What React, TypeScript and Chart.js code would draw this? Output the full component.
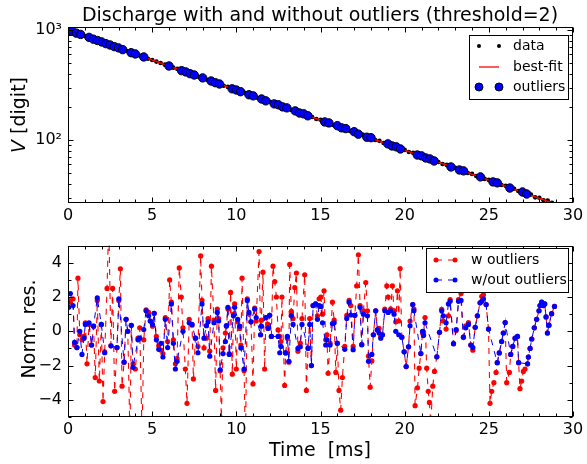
import React, { useEffect, useRef } from "react";
import { Chart, registerables } from "chart.js";

Chart.register(...registerables);

const FONT = '"DejaVu Sans", sans-serif';
const TITLE = "Discharge with and without outliers (threshold=2)";

// ---------- top panel: discharge data ----------
const TOP_T = [
  0, 0.25, 0.5, 0.75, 1, 1.25, 1.5, 1.75, 2, 2.25, 2.5, 2.75,
  3, 3.25, 3.5, 3.75, 4, 4.25, 4.5, 4.75, 5, 5.25, 5.5, 5.75,
  6, 6.25, 6.5, 6.75, 7, 7.25, 7.5, 7.75, 8, 8.25, 8.5, 8.75,
  9, 9.25, 9.5, 9.75, 10, 10.25, 10.5, 10.75, 11, 11.25, 11.5, 11.75,
  12, 12.25, 12.5, 12.75, 13, 13.25, 13.5, 13.75, 14, 14.25, 14.5, 14.75,
  15, 15.25, 15.5, 15.75, 16, 16.25, 16.5, 16.75, 17, 17.25, 17.5, 17.75,
  18, 18.25, 18.5, 18.75, 19, 19.25, 19.5, 19.75, 20, 20.25, 20.5, 20.75,
  21, 21.25, 21.5, 21.75, 22, 22.25, 22.5, 22.75, 23, 23.25, 23.5, 23.75,
  24, 24.25, 24.5, 24.75, 25, 25.25, 25.5, 25.75, 26, 26.25, 26.5, 26.75,
  27, 27.25, 27.5, 27.75, 28, 28.25, 28.5, 28.75,
];
const TOP_V = [
  1005, 972, 936, 912, 880, 857, 826, 803, 779, 752, 731, 706,
  688, 663, 645, 622, 606, 585, 569, 548, 534, 516, 502, 484,
  471, 455, 443, 427, 416, 401, 390, 376, 367, 353, 344, 332,
  323, 311, 304, 292, 285, 275, 268, 258, 252, 242, 236, 227,
  222, 213, 209, 200, 196, 188, 184, 176, 173, 166, 162, 155,
  153, 146, 143, 137, 135, 129, 127, 121, 119, 113, 112, 106,
  105, 100, 98.3, 94.0, 92.3, 88.3, 86.7, 82.9, 81.3, 77.9, 76.4, 73.1,
  71.8, 68.7, 67.3, 64.5, 63.2, 60.6, 59.4, 56.9, 55.8, 53.4, 52.4, 50.1,
  49.2, 47.1, 46.2, 44.3, 43.4, 41.6, 40.8, 39.0, 38.3, 36.6, 36.0, 34.4,
  33.7, 32.3, 31.9, 30.1, 29.9, 28.3, 28.1, 26.9,
];
const OUTLIER_T = [
  0, 0.25, 0.5, 0.75, 1.25, 1.5, 1.75, 2, 2.25, 2.5, 2.75, 3, 3.25, 3.75, 4, 4.5,
  6, 6.75, 7, 7.25, 7.5, 8, 8.5, 8.75, 9, 9.75, 10, 10.25, 10.75, 11,
  11.5, 11.75, 12.25, 12.5, 12.75, 13, 13.5, 13.75, 14, 14.25, 15.25, 15.5,
  16, 16.25, 16.5, 17, 17.25, 17.75, 18, 19, 19.25, 19.5, 19.75, 20.75, 21,
  21.25, 21.5, 21.75, 22.75, 23.25, 23.5, 24.5, 25.25, 25.5, 26.25, 27, 27.25,
];
const FIT_T = [0, 28.9];
const FIT_V = [1000, 26.4];

// ---------- bottom panel: normalised residuals ----------
const RES_T = [
  0.04, 0.14, 0.30, 0.39, 0.53, 0.59, 0.70, 0.83, 0.95, 1.03,
  1.13, 1.25, 1.40, 1.52, 1.62, 1.74, 1.86, 1.98, 2.08, 2.18,
  2.32, 2.42, 2.55, 2.65, 2.77, 2.91, 3.02, 3.11, 3.21, 3.33,
  3.45, 3.55, 3.68, 3.76, 3.86, 4.00, 4.16, 4.26, 4.40, 4.50,
  4.64, 4.79, 4.89, 5.02, 5.12, 5.25, 5.39, 5.53, 5.64, 5.78,
  5.92, 6.04, 6.14, 6.26, 6.38, 6.48, 6.61, 6.73, 6.83, 6.97,
  7.07, 7.20,
  7.37, 7.45, 7.57, 7.72, 7.88, 7.96, 8.08, 8.22, 8.32, 8.42,
  8.52, 8.67, 8.77, 8.87, 8.95, 9.04, 9.11, 9.21, 9.35, 9.41,
  9.50, 9.58, 9.66, 9.76, 9.83, 9.90, 10.00, 10.08, 10.20, 10.27,
  10.34, 10.46, 10.54, 10.65, 10.75, 10.87, 10.99, 11.09, 11.18, 11.35,
  11.44, 11.49, 11.58, 11.68, 11.76, 11.88, 11.98, 12.08, 12.18, 12.28,
  12.38, 12.48, 12.58, 12.65, 12.71, 12.87, 12.93, 13.03, 13.12, 13.17,
  13.27, 13.37, 13.47, 13.57, 13.66, 13.80, 13.90, 14.06, 14.16, 14.26,
  14.36, 14.46, 14.56, 14.71,
  14.82, 14.92, 15.02, 15.12, 15.21, 15.31, 15.38, 15.45, 15.57, 15.71,
  15.81, 15.91, 16.00, 16.10, 16.20, 16.30, 16.44, 16.56, 16.70, 16.80,
  16.94, 17.04, 17.15, 17.25, 17.35, 17.45, 17.55, 17.69, 17.79, 17.85,
  17.95, 18.05, 18.14, 18.28, 18.38, 18.48, 18.58, 18.68, 18.82, 18.94,
  19.02, 19.17, 19.27, 19.37, 19.47, 19.57, 19.65, 19.73, 19.83, 19.97,
  20.09, 20.23, 20.32, 20.48, 20.55, 20.62, 20.76, 20.86, 20.96, 21.06,
  21.12, 21.21, 21.31, 21.40, 21.47, 21.55, 21.67, 21.77, 21.91, 22.07,
  22.20, 22.30, 22.46, 22.60, 22.70, 22.90, 23.06, 23.20, 23.35, 23.49,
  23.63, 23.79, 23.93, 24.05, 24.19, 24.32, 24.48, 24.58, 24.68, 24.84,
  24.98, 25.07, 25.17, 25.30, 25.43, 25.50, 25.62, 25.76, 25.86, 25.97,
  26.06, 26.22, 26.30, 26.42, 26.56, 26.70, 26.77, 26.85, 26.95, 27.05,
  27.15, 27.30, 27.35, 27.45, 27.55, 27.70, 27.84, 27.98, 28.04, 28.14,
  28.24, 28.32, 28.40, 28.48, 28.57, 28.73, 28.90,
];
const RES_W = [
  1.8, 1.7, 1.9, -0.8, -0.95, 3.1, -0.2, -0.5, -0.3, 0.5,
  -1.9, 0.4, -0.8, 0.3, -2.7, 1.8, -2.9, 0.4, -4.1, -1.2,
  2.5, 6.5, -0.85, 2.5, -3.5, -0.95, 1.8, 3.65, -3.2, -1.8,
  0.7, 0.0, -6.0, 0.35, -1.9, -2.2, -0.4, 0.2, -6.0, -0.5,
  1.25, 1.1, 0.6, 0.3, 1.05, -0.3, -0.85, -1.1, -1.3, 0.8,
  -0.6, 3.0, 1.7, -0.5, -1.9, -1.6, 3.7, 2.0, 0.2, -2.2,
  -4.2, 0.7,
  0.36, -2.78, -0.4, -0.88, 4.4, 1.8, -0.97, -0.4, 0.74, -1.16,
  3.8, 0.65, -3.45, 1.3, 0.74, -2.3, -5.07, -0.97, -0.1, 0.3,
  1.3, -1.3, 2.27, -2.5, 1.0, 1.6, -2.2, 0.55, 0.17, -0.8,
  3.1, -2.3, -6.5, 1.9, 1.0, 0.55, -3.07, 1.35, 0.6, 4.65,
  -0.2, 0.65, 3.45, -2.2, 0.8, 0.4, 0.93, -0.3, 3.8, 2.9,
  2.0, 0.08, -0.3, -0.6, 2.0, -3.16, -1.26, -0.4, -1.8, 3.9,
  1.16, 0.74, 2.55, 3.4, -1.16, -0.69, 0.74, 3.3, -3.45, -0.97,
  0.74, -2.0, 1.5, 1.6,
  0.9, 1.9, 2.0, 1.0, 2.36, -0.5, -0.2, -2.45, -0.69, 1.7,
  0.65, -2.4, -0.69, -3.45, -4.6, -2.7, -0.88, 0.93, 1.8, 1.5,
  -0.88, 0.93, 2.65, 4.46, 1.5, -0.78, 1.2, 2.84, 1.2, -1.45,
  -3.26, -1.73, -0.2, 1.2, 0.08, 0.17, -0.3, -0.2, 1.3, 2.65,
  2.0, 1.3, 2.65, 1.2, 0.55, 2.36, 0.6, 3.66, -0.34, -1.2,
  -2.06, -0.9, 0.6, 1.56, 1.3, -4.34, -3.3, -2.15, -1.3, -0.1,
  -0.06, 0.8, -2.15, -3.5, -4.15, -5.4, -3.2, -2.34, -1.49, -0.06,
  1.28, 0.6, 0.13, 0.9, 1.85, -0.72, 0.04, 1.85, 2.2, -0.34,
  0.32, 0.51, -0.8, -1.1, 0.23, 0.9, 1.66, 2.04, 2.13, 1.56,
  0.13, -4.2, -3.5, -3.0, -2.4, -1.83, -1.26, -0.6, -0.1, 0.51,
  -3.0, -2.4, -1.35, -0.88, -0.4, -0.3, -1.83, -3.35, -2.9, -2.34,
  -2.2, -1.9, -1.5, -1.0, -0.45, 0.2, 0.7, 1.2, 1.5, 1.7,
  1.5, 1.6, 0.84, -0.1, 0.36, 1.03, 1.45,
];
const RES_WO = [
  1.4, 2.2, 1.5, -0.65, -0.95, null, 0.0, -1.35, -0.4, 0.4,
  null, 0.5, -0.8, 0.3, null, 1.95, null, 0.4, null, -1.25,
  null, null, -0.85, null, null, -0.95, 1.9, null, null, -1.8,
  0.7, 0.0, null, 0.35, -2.1, null, -0.5, -0.4, null, 0.1,
  1.2, 0.9, 0.6, 0.4, 1.05, -0.5, -1.05, -0.7, -1.5, 0.7,
  -0.95, null, 1.6, -0.7, -2.2, -1.75, null, null, 0.0, null,
  null, 0.5,
  0.4, null, -0.4, -1.25, null, 1.6, -0.4, 0.33, 0.55, -1.45,
  null, 0.5, null, 1.1, 0.6, -2.25, null, -1.3, -0.6, 0.33,
  1.4, -1.35, null, null, 0.9, 1.4, null, 0.7, 0.3, -0.97,
  null, -2.2, null, 1.8, 1.1, 0.55, null, 1.3, 0.8, null,
  -0.2, 0.3, null, null, 0.8, 0.17, 0.93, -0.3, null, null,
  null, -0.3, -1.25, -0.88, null, null, -1.26, -0.3, -1.75, null,
  0.9, 0.4, null, null, -1.0, -0.9, 0.4, null, null, -1.0,
  0.4, -2.0, 1.5, 1.6,
  0.7, 1.5, 1.45, 0.5, null, -0.8, -0.5, null, -0.8, 0.45,
  0.5, null, -0.7, null, null, null, -1.05, 0.75, 1.7, 0.95,
  -1.07, 0.93, null, null, 1.4, -0.78, 1.0, null, 0.9, -1.75,
  null, -1.35, -0.2, 1.2, 0.08, -0.1, -0.4, -0.2, 1.2, null,
  1.1, 1.2, null, 1.0, 0.0, null, -0.2, null, -0.34, -1.2,
  -2.06, -0.9, 0.32, 1.56, 1.2, null, null, null, -1.3, 0.0,
  -0.25, 0.5, null, null, null, null, null, null, -1.49, -0.06,
  1.2, 0.9, 0.5, 1.6, 1.75, -0.72, 0.1, 1.75, 1.8, -0.34,
  0.2, 0.4, -0.8, -0.95, 0.23, 0.9, 1.66, 1.75, 1.9, 1.56,
  0.13, null, null, null, null, -1.83, -1.26, -0.6, -0.1, 0.51,
  null, null, -1.35, -0.88, -0.4, -0.3, -1.83, null, null, null,
  null, -1.9, -1.5, -1.0, -0.45, 0.2, 0.7, 1.2, 1.5, 1.7,
  1.5, 1.6, 0.84, -0.1, 0.36, 1.03, 1.45,
];

// ---------- ticks ----------
const X_MAJOR = [0, 5, 10, 15, 20, 25, 30];
const X_MINOR = [1, 2, 3, 4, 6, 7, 8, 9, 11, 12, 13, 14, 16, 17, 18, 19, 21, 22, 23, 24, 26, 27, 28, 29];
const TOP_Y_MAJOR = [100, 1000];
const TOP_Y_MINOR = [30, 40, 50, 60, 70, 80, 90, 200, 300, 400, 500, 600, 700, 800, 900];
const RES_Y_MAJOR = [-4, -2, 0, 2, 4];
const RES_Y_MINOR = [-5, -3, -1, 1, 3, 5];

function tickPlugin(xMajor: number[], xMinor: number[], yMajor: number[], yMinor: number[]) {
  return {
    id: "inTicks",
    afterDatasetsDraw(chart: any) {
      const { ctx, chartArea: a, scales } = chart;
      const L = Math.round(a.left) + 0.5;
      const R = Math.round(a.right) - 0.5;
      const T = Math.round(a.top) + 0.5;
      const B = Math.round(a.bottom) - 0.5;
      const xs = scales.x;
      const ys = scales.y;
      ctx.save();
      ctx.strokeStyle = "#000";
      ctx.lineWidth = 1;
      ctx.beginPath();
      const xt = (vals: number[], len: number) =>
        vals.forEach((v) => {
          const p = Math.round(xs.getPixelForValue(v)) + 0.5;
          ctx.moveTo(p, B);
          ctx.lineTo(p, B - len);
          ctx.moveTo(p, T);
          ctx.lineTo(p, T + len);
        });
      const yt = (vals: number[], len: number) =>
        vals.forEach((v) => {
          const p = Math.round(ys.getPixelForValue(v)) + 0.5;
          ctx.moveTo(L, p);
          ctx.lineTo(L + len, p);
          ctx.moveTo(R, p);
          ctx.lineTo(R - len, p);
        });
      xt(xMajor, 5);
      xt(xMinor, 3);
      yt(yMajor, 5);
      yt(yMinor, 3);
      ctx.stroke();
      ctx.strokeRect(L, T, R - L, B - T);
      ctx.restore();
    },
  };
}

function rotatedLabel(ctx: CanvasRenderingContext2D, parts: [string, string][], cx: number, cy: number) {
  ctx.save();
  ctx.translate(cx, cy);
  ctx.rotate(-Math.PI / 2);
  ctx.textBaseline = "middle";
  ctx.textAlign = "left";
  let total = 0;
  parts.forEach(([t, f]) => {
    ctx.font = f;
    total += ctx.measureText(t).width;
  });
  let x = -total / 2;
  parts.forEach(([t, f]) => {
    ctx.font = f;
    ctx.fillText(t, x, 0);
    x += ctx.measureText(t).width;
  });
  ctx.restore();
}

function dot(ctx: CanvasRenderingContext2D, x: number, y: number, r: number, fill: string, stroke?: string) {
  ctx.beginPath();
  ctx.arc(x, y, r, 0, Math.PI * 2);
  ctx.fillStyle = fill;
  ctx.fill();
  if (stroke) {
    ctx.strokeStyle = stroke;
    ctx.lineWidth = 1;
    ctx.stroke();
  }
}

const LEG_FONT = `14px ${FONT}`;
const LABEL_FONT = `19px ${FONT}`;

const topText = {
  id: "topText",
  afterDraw(chart: any) {
    const ctx: CanvasRenderingContext2D = chart.ctx;
    ctx.save();
    ctx.fillStyle = "#000";
    ctx.font = LABEL_FONT;
    ctx.textAlign = "center";
    ctx.textBaseline = "alphabetic";
    ctx.fillText(TITLE, 320, 21);
    rotatedLabel(ctx, [["V", `italic ${LABEL_FONT}`], [" [digit]", LABEL_FONT]], 20, 115);
    // legend
    ctx.fillStyle = "#fff";
    ctx.fillRect(469.5, 35.5, 99, 64);
    ctx.strokeStyle = "#000";
    ctx.lineWidth = 1;
    ctx.strokeRect(469.5, 35.5, 99, 64);
    dot(ctx, 479, 46, 2, "#000");
    dot(ctx, 499, 46, 2, "#000");
    ctx.beginPath();
    ctx.moveTo(479, 67);
    ctx.lineTo(499, 67);
    ctx.strokeStyle = "#ff0000";
    ctx.lineWidth = 1.3;
    ctx.stroke();
    dot(ctx, 479, 87, 4, "#0000ff", "#000");
    dot(ctx, 499, 87, 4, "#0000ff", "#000");
    ctx.fillStyle = "#000";
    ctx.font = LEG_FONT;
    ctx.textAlign = "left";
    ctx.textBaseline = "middle";
    ctx.fillText("data", 513, 46);
    ctx.fillText("best-fit", 513, 67);
    ctx.fillText("outliers", 513, 87);
    ctx.restore();
  },
};

const botText = {
  id: "botText",
  afterDraw(chart: any) {
    const ctx: CanvasRenderingContext2D = chart.ctx;
    ctx.save();
    ctx.fillStyle = "#000";
    rotatedLabel(ctx, [["Norm. res.", LABEL_FONT]], 30, 99);
    ctx.font = LABEL_FONT;
    ctx.textAlign = "center";
    ctx.textBaseline = "middle";
    ctx.fillText("Time  [ms]", 320, 221);
    // legend
    ctx.fillStyle = "#fff";
    ctx.fillRect(426.5, 18.5, 142, 44);
    ctx.strokeStyle = "#000";
    ctx.lineWidth = 1;
    ctx.strokeRect(426.5, 18.5, 142, 44);
    const entry = (y: number, col: string, txt: string) => {
      ctx.save();
      ctx.beginPath();
      ctx.setLineDash([6, 6]);
      ctx.moveTo(436, y);
      ctx.lineTo(455, y);
      ctx.strokeStyle = col;
      ctx.lineWidth = 1;
      ctx.stroke();
      ctx.restore();
      dot(ctx, 436, y, 2.5, col);
      dot(ctx, 455, y, 2.5, col);
      ctx.fillStyle = "#000";
      ctx.font = LEG_FONT;
      ctx.textAlign = "left";
      ctx.textBaseline = "middle";
      ctx.fillText(txt, 471, y);
    };
    entry(30, "#ff0000", "w outliers");
    entry(50, "#0000ff", "w/out outliers");
    ctx.restore();
  },
};

const minus = (v: number) => (v < 0 ? "\u2212" + Math.abs(v) : String(v));

export default function App() {
  const topRef = useRef<HTMLCanvasElement>(null);
  const botRef = useRef<HTMLCanvasElement>(null);

  useEffect(() => {
    Chart.defaults.font.family = FONT;
    Chart.defaults.color = "#000";

    const dataPts = TOP_T.map((t, i) => ({ x: t, y: TOP_V[i] }));
    const outPts = dataPts.filter((p) => OUTLIER_T.includes(p.x));
    const fitPts = FIT_T.map((t, i) => ({ x: t, y: FIT_V[i] }));
    const n = Math.min(RES_T.length, RES_W.length, RES_WO.length);
    const wPts = RES_T.slice(0, n).map((t, i) => ({ x: t, y: RES_W[i] }));
    const woPts = RES_T.slice(0, n).map((t, i) => ({ x: t, y: RES_WO[i] }));

    const xScale = (height: number) => ({
      type: "linear" as const,
      min: 0,
      max: 30,
      grid: { display: false, drawTicks: false },
      border: { display: false },
      afterBuildTicks: (s: any) => {
        s.ticks = X_MAJOR.map((v) => ({ value: v }));
      },
      ticks: { autoSkip: false, maxRotation: 0, padding: 3, color: "#000", font: { size: 16 } },
      afterFit: (s: any) => {
        s.height = height;
      },
    });

    const top = new Chart(topRef.current!, {
      type: "scatter",
      data: {
        datasets: [
          {
            label: "outliers",
            data: outPts,
            pointRadius: 4.2,
            pointBackgroundColor: "#0000ff",
            pointBorderColor: "#000",
            pointBorderWidth: 1,
            showLine: false,
            order: 0,
          },
          {
            label: "best-fit",
            data: fitPts,
            showLine: true,
            borderColor: "#ff0000",
            borderWidth: 1.5,
            pointRadius: 0,
            fill: false,
            order: 1,
          },
          {
            label: "data",
            data: dataPts,
            pointRadius: 2.3,
            pointBackgroundColor: "#000",
            pointBorderColor: "#000",
            pointBorderWidth: 0,
            showLine: false,
            order: 2,
          },
        ],
      },
      options: {
        responsive: false,
        animation: false,
        events: [],
        layout: { autoPadding: false, padding: { left: 0, right: 14, top: 27, bottom: 0 } },
        plugins: { legend: { display: false }, tooltip: { enabled: false }, title: { display: false } },
        scales: {
          x: xScale(27),
          y: {
            type: "logarithmic",
            min: 26.75,
            max: 1065,
            grid: { display: false, drawTicks: false },
            border: { display: false },
            afterBuildTicks: (s: any) => {
              s.ticks = TOP_Y_MAJOR.map((v) => ({ value: v }));
            },
            ticks: {
              padding: 6,
              color: "#000",
              font: { size: 16 },
              callback: (v: any) => (Number(v) === 100 ? "10\u00B2" : Number(v) === 1000 ? "10\u00B3" : ""),
            },
            afterFit: (s: any) => {
              s.width = 68;
            },
          },
        },
      } as any,
      plugins: [tickPlugin(X_MAJOR, X_MINOR, TOP_Y_MAJOR, TOP_Y_MINOR), topText],
    });

    const bot = new Chart(botRef.current!, {
      type: "scatter",
      data: {
        datasets: [
          {
            label: "w/out outliers",
            data: woPts,
            showLine: true,
            spanGaps: true,
            borderColor: "#0000ff",
            borderWidth: 1,
            borderDash: [6, 6],
            pointRadius: 2.6,
            pointBackgroundColor: "#0000ff",
            pointBorderWidth: 0,
            order: 0,
          },
          {
            label: "w outliers",
            data: wPts,
            showLine: true,
            borderColor: "#ff0000",
            borderWidth: 1.1,
            borderDash: [6, 6],
            pointRadius: 2.6,
            pointBackgroundColor: "#ff0000",
            pointBorderWidth: 0,
            order: 1,
          },
        ],
      },
      options: {
        responsive: false,
        animation: false,
        events: [],
        layout: { autoPadding: false, padding: { left: 0, right: 14, top: 11, bottom: 0 } },
        plugins: { legend: { display: false }, tooltip: { enabled: false }, title: { display: false } },
        scales: {
          x: xScale(47),
          y: {
            type: "linear",
            min: -5,
            max: 5,
            grid: { display: false, drawTicks: false },
            border: { display: false },
            afterBuildTicks: (s: any) => {
              s.ticks = RES_Y_MAJOR.map((v) => ({ value: v }));
            },
            ticks: { padding: 6, color: "#000", font: { size: 16 }, callback: (v: any) => minus(Number(v)) },
            afterFit: (s: any) => {
              s.width = 68;
            },
          },
        },
      } as any,
      plugins: [tickPlugin(X_MAJOR, X_MINOR, RES_Y_MAJOR, RES_Y_MINOR), botText],
    });

    return () => {
      top.destroy();
      bot.destroy();
    };
  }, []);

  return (
    <div style={{ position: "absolute", left: 0, top: 0, width: 587, height: 464, background: "#fff" }}>
      <canvas
        ref={topRef}
        width={587}
        height={230}
        style={{ position: "absolute", left: 0, top: 0, width: 587, height: 230 }}
      />
      <canvas
        ref={botRef}
        width={587}
        height={234}
        style={{ position: "absolute", left: 0, top: 230, width: 587, height: 234 }}
      />
    </div>
  );
}
